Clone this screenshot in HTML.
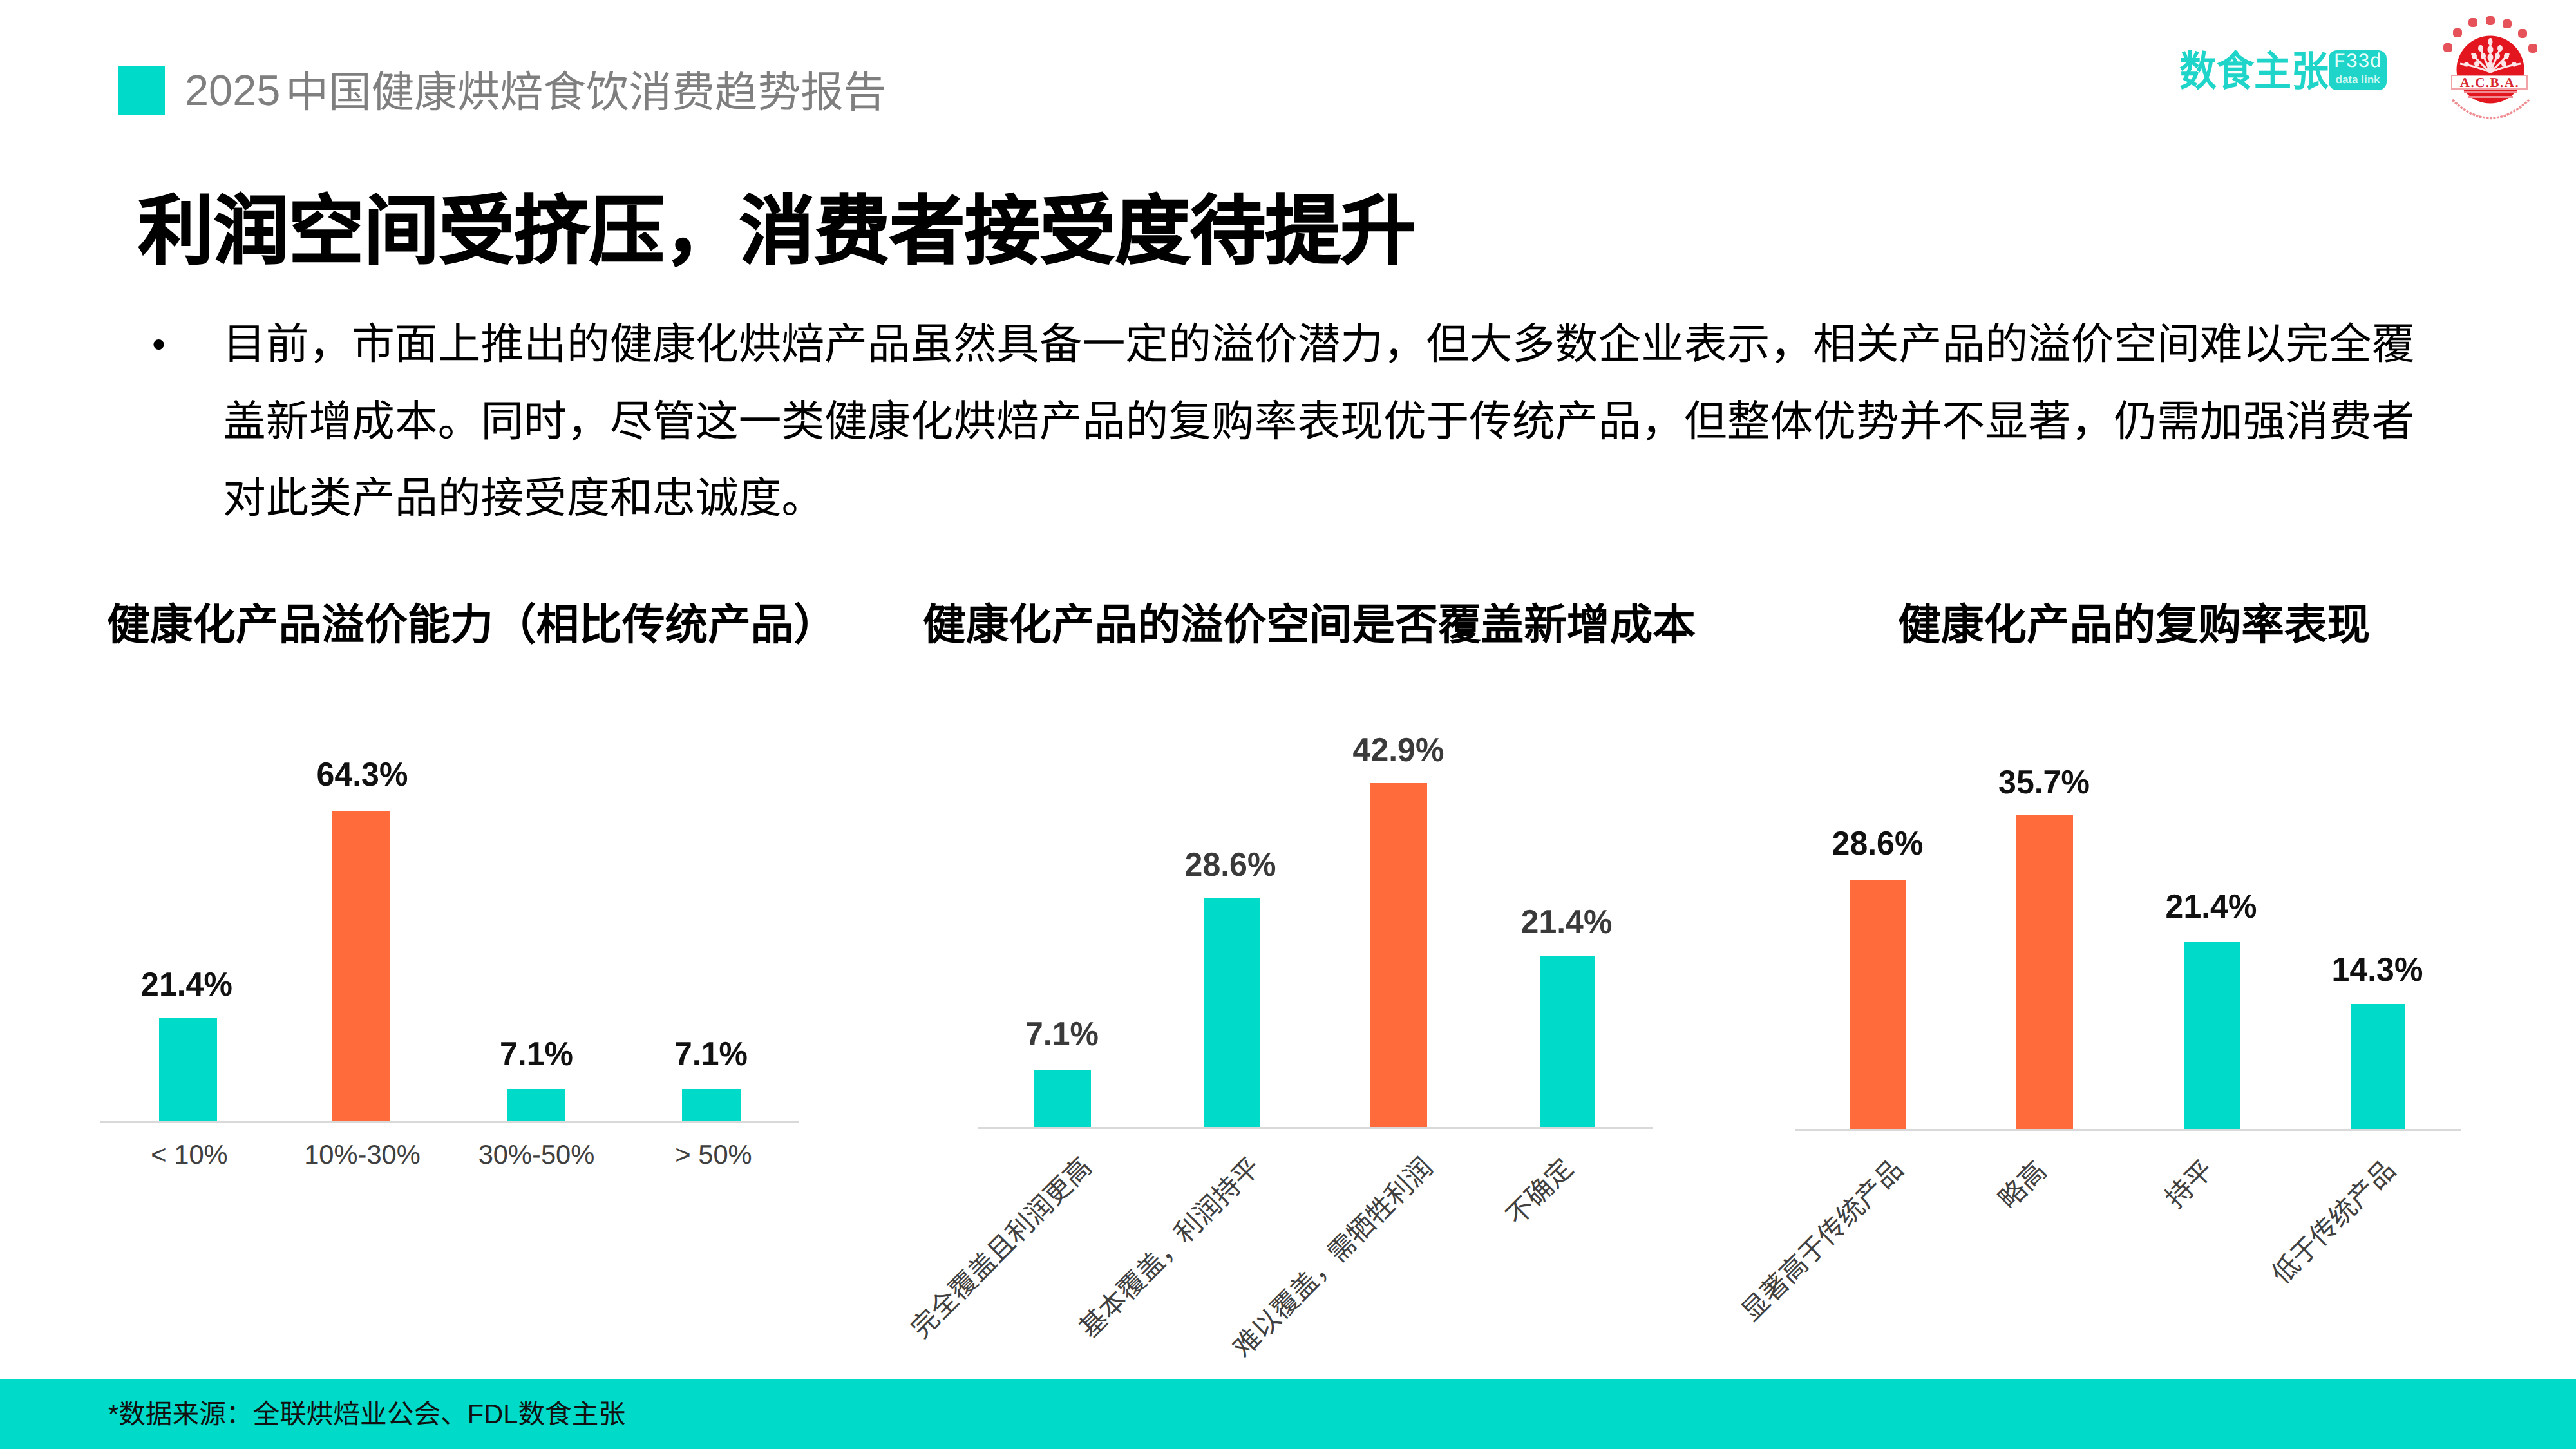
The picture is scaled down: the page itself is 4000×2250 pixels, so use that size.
<!DOCTYPE html>
<html lang="zh-CN">
<head>
<meta charset="utf-8">
<title>2025中国健康烘焙食饮消费趋势报告</title>
<style>
html,body{margin:0;padding:0;}
body{width:4000px;height:2250px;position:relative;overflow:hidden;background:#fff;font-family:"Liberation Sans",sans-serif;color:#000;text-rendering:geometricPrecision;}
.abs{position:absolute;white-space:nowrap;}
.sq{left:184px;top:103px;width:72px;height:75px;background:#00dbc9;}
.hdr{left:287px;top:102px;font-size:66.67px;line-height:84px;color:#7f7f7f;}
.title{left:215px;top:289px;font-size:116.67px;line-height:140px;font-weight:bold;color:#000;-webkit-text-stroke:2px #000;}
.bullet{left:236px;top:505px;font-size:60px;line-height:60px;}
.para{left:346px;top:476px;font-size:66.67px;line-height:119.5px;color:#000;letter-spacing:0.08px;}
.ctitle{font-size:66.67px;line-height:80px;font-weight:bold;top:931px;}
.bar{position:absolute;}
.axis{position:absolute;height:3px;background:#d9d9d9;}
.val{position:absolute;font-size:50px;font-weight:bold;line-height:50px;text-align:center;white-space:nowrap;transform:scaleY(1.04);transform-origin:50% 7px;}
.cat{position:absolute;font-size:41.67px;line-height:42px;text-align:center;color:#404040;white-space:nowrap;}
.rot{position:absolute;left:0;top:0;font-size:41.67px;line-height:48px;color:#404040;transform-origin:0 0;white-space:nowrap;}
.footer{left:0;top:2141px;width:4000px;height:109px;background:#00dbc9;}
.ftxt{left:168px;top:2168px;font-size:41.67px;line-height:56px;color:#111;}
</style>
</head>
<body>
<div class="abs sq"></div>
<div class="abs hdr"><span style="margin-right:8px;position:relative;top:-3px;">2025</span>中国健康烘焙食饮消费趋势报告</div>
<div class="abs" style="left:3384px;top:70px;font-size:58px;line-height:76px;font-weight:bold;color:#1fd4c8;transform:scaleY(1.11);transform-origin:0 7px;">数食主张</div>
<div class="abs" style="left:3616px;top:78px;width:90px;height:62px;border-radius:13px;background:#1fd4c8;"></div>
<div class="abs" style="left:3616px;top:80px;width:90px;text-align:center;font-size:31px;line-height:34px;color:#e8fffc;font-family:'Liberation Mono',monospace;">F33d</div>
<div class="abs" style="left:3616px;top:114px;width:90px;text-align:center;font-size:17px;line-height:20px;color:#c9f7f2;font-weight:bold;">data link</div>
<svg class="abs" style="left:3780px;top:15px;" width="180" height="180" viewBox="0 0 180 180">
<g fill="#e6525a">
<rect x="14" y="52" width="14" height="14" rx="5"/><rect x="29" y="29" width="14" height="14" rx="5"/><rect x="53" y="13" width="14" height="14" rx="5"/><rect x="80" y="10" width="14" height="14" rx="5"/><rect x="106" y="15" width="14" height="14" rx="5"/><rect x="130" y="30" width="14" height="14" rx="5"/><rect x="146" y="53" width="14" height="14" rx="5"/>
</g>
<circle cx="87" cy="93" r="52.5" fill="#e3151f"/>
<g stroke="#fde6e7" stroke-width="3.2" fill="none">
<path d="M87 44 V97"/><path d="M70 56 Q80 80 87 97"/><path d="M104 56 Q94 80 87 97"/>
<path d="M58 68 Q74 86 87 97"/><path d="M116 68 Q100 86 87 97"/>
<path d="M40 84 Q66 88 87 97"/><path d="M134 84 Q108 88 87 97"/>
</g>
<g fill="#fde6e7">
<ellipse cx="87" cy="50" rx="3.5" ry="5.5"/><ellipse cx="87" cy="62" rx="4.5" ry="5.5"/><ellipse cx="87" cy="74" rx="4.5" ry="5.5"/><ellipse cx="87" cy="85" rx="4" ry="5"/>
<ellipse cx="72" cy="60" rx="4" ry="5"/><ellipse cx="102" cy="60" rx="4" ry="5"/>
<ellipse cx="76" cy="72" rx="4" ry="5"/><ellipse cx="98" cy="72" rx="4" ry="5"/>
<ellipse cx="62" cy="72" rx="4" ry="4.5"/><ellipse cx="112" cy="72" rx="4" ry="4.5"/>
<ellipse cx="66" cy="84" rx="4" ry="4"/><ellipse cx="108" cy="84" rx="4" ry="4"/>
<ellipse cx="50" cy="85" rx="4" ry="3.5"/><ellipse cx="124" cy="85" rx="4" ry="3.5"/>
</g>
<rect x="27" y="102" width="117" height="21" fill="#ffffff" stroke="#f2a3a7" stroke-width="2"/>
<text x="86" y="120" text-anchor="middle" font-family="Liberation Serif, serif" font-weight="bold" font-size="21" letter-spacing="1.5" fill="#d8242d">A.C.B.A.</text>
<g fill="#f08c91">
<rect x="46" y="127" width="82" height="3"/><rect x="52" y="134" width="70" height="3"/>
</g>
<path d="M28 140 Q87 197 147 140" stroke="#ee8d92" stroke-width="3.5" fill="none" stroke-dasharray="4 1.5"/>
</svg>
<div class="abs title">利润空间受挤压，消费者接受度待提升</div>
<div class="abs bullet">•</div>
<div class="abs para">目前，市面上推出的健康化烘焙产品虽然具备一定的溢价潜力，但大多数企业表示，相关产品的溢价空间难以完全覆<br>盖新增成本。同时，尽管这一类健康化烘焙产品的复购率表现优于传统产品，但整体优势并不显著，仍需加强消费者<br>对此类产品的接受度和忠诚度。</div>
<div class="abs ctitle" style="left:166px;">健康化产品溢价能力（相比传统产品）</div>
<div class="abs ctitle" style="left:1433px;">健康化产品的溢价空间是否覆盖新增成本</div>
<div class="abs ctitle" style="left:2947px;">健康化产品的复购率表现</div>
<div class="axis" style="left:156px;top:1741px;width:1085px;"></div>
<div class="bar" style="left:247px;top:1581px;width:90px;height:160px;background:#00dbc9;"></div>
<div class="bar" style="left:516px;top:1259px;width:90px;height:482px;background:#ff6b3b;"></div>
<div class="bar" style="left:787px;top:1691px;width:91px;height:50px;background:#00dbc9;"></div>
<div class="bar" style="left:1059px;top:1691px;width:91px;height:50px;background:#00dbc9;"></div>
<div class="val" style="left:140.0px;top:1503.0px;width:300px;color:#111;">21.4%</div>
<div class="val" style="left:412.5px;top:1177.0px;width:300px;color:#111;">64.3%</div>
<div class="val" style="left:683.0px;top:1611.0px;width:300px;color:#111;">7.1%</div>
<div class="val" style="left:954.0px;top:1611.0px;width:300px;color:#111;">7.1%</div>
<div class="cat" style="left:144.0px;top:1772.0px;width:300px;">&lt; 10%</div>
<div class="cat" style="left:412.5px;top:1772.0px;width:300px;">10%-30%</div>
<div class="cat" style="left:683.0px;top:1772.0px;width:300px;">30%-50%</div>
<div class="cat" style="left:958.0px;top:1772.0px;width:300px;">&gt; 50%</div>
<div class="axis" style="left:1519px;top:1750px;width:1047px;"></div>
<div class="bar" style="left:1606px;top:1662px;width:88px;height:88px;background:#00dbc9;"></div>
<div class="bar" style="left:1869px;top:1394px;width:87px;height:356px;background:#00dbc9;"></div>
<div class="bar" style="left:2128px;top:1216px;width:88px;height:534px;background:#ff6b3b;"></div>
<div class="bar" style="left:2391px;top:1484px;width:86px;height:266px;background:#00dbc9;"></div>
<div class="val" style="left:1499.0px;top:1580.0px;width:300px;color:#3a3a3a;">7.1%</div>
<div class="val" style="left:1760.5px;top:1317.0px;width:300px;color:#3a3a3a;">28.6%</div>
<div class="val" style="left:2021.5px;top:1139.0px;width:300px;color:#3a3a3a;">42.9%</div>
<div class="val" style="left:2282.5px;top:1406.0px;width:300px;color:#3a3a3a;">21.4%</div>
<div class="rot" style="transform:translate(1670.5px,1788px) rotate(-45deg) translate(-100%,0);">完全覆盖且利润更高</div>
<div class="rot" style="transform:translate(1932px,1788px) rotate(-45deg) translate(-100%,0);">基本覆盖，利润持平</div>
<div class="rot" style="transform:translate(2200px,1788.5px) rotate(-45deg) translate(-100%,0);">难以覆盖，需牺牲利润</div>
<div class="rot" style="transform:translate(2418px,1790px) rotate(-45deg) translate(-100%,0);">不确定</div>
<div class="axis" style="left:2787px;top:1753px;width:1035px;"></div>
<div class="bar" style="left:2872px;top:1366px;width:87px;height:387px;background:#ff6b3b;"></div>
<div class="bar" style="left:3131px;top:1266px;width:88px;height:487px;background:#ff6b3b;"></div>
<div class="bar" style="left:3391px;top:1462px;width:87px;height:291px;background:#00dbc9;"></div>
<div class="bar" style="left:3650px;top:1559px;width:84px;height:194px;background:#00dbc9;"></div>
<div class="val" style="left:2765.5px;top:1284.0px;width:300px;color:#111;">28.6%</div>
<div class="val" style="left:3024.0px;top:1189.0px;width:300px;color:#111;">35.7%</div>
<div class="val" style="left:3283.5px;top:1382.0px;width:300px;color:#111;">21.4%</div>
<div class="val" style="left:3541.5px;top:1480.0px;width:300px;color:#111;">14.3%</div>
<div class="rot" style="transform:translate(2930.5px,1791.5px) rotate(-45deg) translate(-100%,0);">显著高于传统产品</div>
<div class="rot" style="transform:translate(3153px,1794px) rotate(-45deg) translate(-100%,0);">略高</div>
<div class="rot" style="transform:translate(3412px,1792.5px) rotate(-45deg) translate(-100%,0);">持平</div>
<div class="rot" style="transform:translate(3695px,1792.5px) rotate(-45deg) translate(-100%,0);">低于传统产品</div>
<div class="abs footer"></div>
<div class="abs ftxt">*数据来源：全联烘焙业公会、FDL数食主张</div>
</body>
</html>
